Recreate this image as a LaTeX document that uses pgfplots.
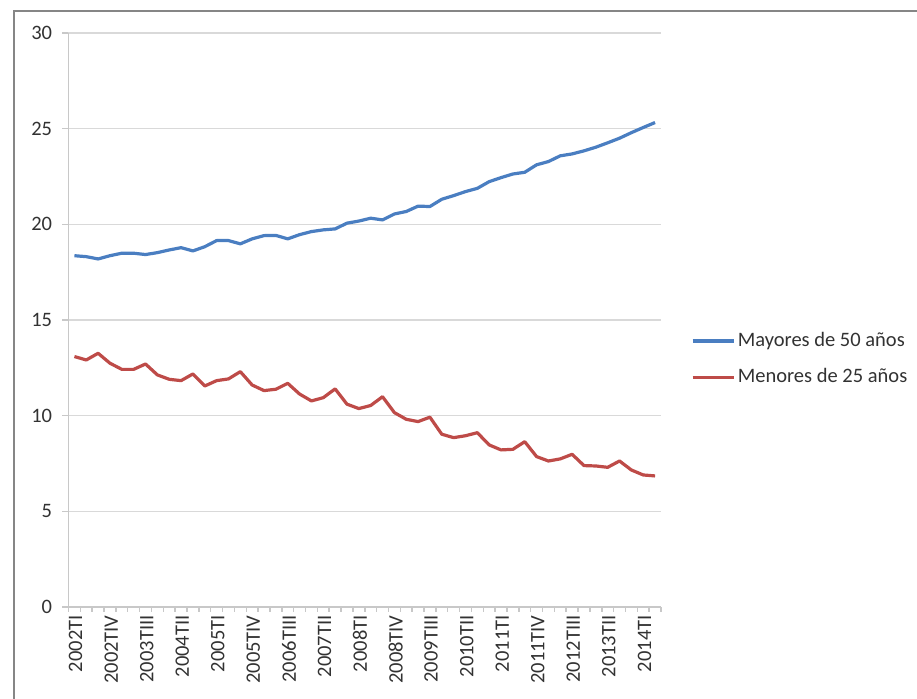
\documentclass[border=0pt]{standalone}
\usepackage{pgfplots}
\pgfplotsset{compat=1.18}
\usepackage{fontspec}
\setmainfont{Carlito}
\definecolor{serblue}{RGB}{74,126,193}
\definecolor{serred}{RGB}{190,75,72}
\definecolor{gridc}{RGB}{217,217,217}
\definecolor{axc}{RGB}{200,200,200}
\definecolor{borderc}{RGB}{134,134,134}
\definecolor{txt}{RGB}{50,50,50}

\pgfplotstableread{
i mayores menores
0 18.36 13.09
1 18.31 12.91
2 18.19 13.26
3 18.36 12.74
4 18.49 12.42
5 18.49 12.42
6 18.42 12.70
7 18.52 12.13
8 18.66 11.90
9 18.78 11.83
10 18.61 12.18
11 18.83 11.55
12 19.15 11.83
13 19.15 11.92
14 18.98 12.30
15 19.24 11.60
16 19.41 11.31
17 19.42 11.38
18 19.24 11.69
19 19.46 11.13
20 19.62 10.77
21 19.71 10.94
22 19.76 11.40
23 20.06 10.60
24 20.17 10.37
25 20.32 10.53
26 20.23 10.99
27 20.54 10.16
28 20.67 9.81
29 20.95 9.69
30 20.93 9.92
31 21.31 9.03
32 21.50 8.85
33 21.71 8.95
34 21.88 9.11
35 22.23 8.47
36 22.44 8.21
37 22.63 8.24
38 22.72 8.64
39 23.11 7.86
40 23.28 7.63
41 23.58 7.74
42 23.68 7.98
43 23.84 7.39
44 24.03 7.37
45 24.26 7.30
46 24.50 7.63
47 24.79 7.16
48 25.06 6.90
49 25.32 6.85
}\datatable

\begin{document}
\begin{tikzpicture}[x=1pt,y=1pt]
\useasboundingbox (0,0) rectangle (458.5,349.5);
\draw[borderc, line width=0.75pt] (7,-5) -- (7,344) -- (470,344);
\begin{axis}[
  at={(34.25pt,46pt)}, anchor=south west,
  scale only axis, width=296.25pt, height=287pt,
  xmin=-0.5, xmax=49.5, ymin=0, ymax=30,
  axis lines*=left,
  axis line style={axc, line width=0.75pt},
  ytick={0,5,...,30},
  xtick={0,3,...,48},
  xticklabels={2002TI,2002TIV,2003TIII,2004TII,2005TI,2005TIV,2006TIII,2007TII,2008TI,2008TIV,2009TIII,2010TII,2011TI,2011TIV,2012TIII,2013TII,2014TI},
  minor xtick={-0.5,0.5,...,49.5},
  tick align=outside,
  major tick length=3pt,
  minor tick length=2.5pt,
  major x tick style={draw=none},
  tick style={axc, line width=0.75pt},
  ymajorgrids,
  major grid style={gridc, line width=0.75pt},
  /pgf/number format/assume math mode=true,
  tick label style={font=\fontsize{10.25}{12}\selectfont, text=txt},
  yticklabel style={inner sep=0pt, xshift=-5pt},
  xticklabel style={rotate=90, anchor=east, inner sep=0pt, xshift=-1pt, yshift=-0.6pt},
  legend style={at={(1,0.4312)}, anchor=west, xshift=15pt, draw=none, fill=none,
    inner sep=0pt, outer sep=0pt, row sep=7pt,
    font=\fontsize{10.25}{12}\selectfont, text=txt,
    nodes={inner sep=1pt, text height=7.2pt, text depth=2.2pt}},
  legend cell align=left,
  legend image code/.code={\draw[#1] (0pt,0pt) -- (20.8pt,0pt);},
]
\addplot[serblue, line width=1.6pt, line join=round] table[x=i, y=mayores] {\datatable};
\addlegendentry{Mayores de 50 años}
\addplot[serred, line width=1.6pt, line join=round] table[x=i, y=menores] {\datatable};
\addlegendentry{Menores de 25 años}
\end{axis}
\end{tikzpicture}
\end{document}
